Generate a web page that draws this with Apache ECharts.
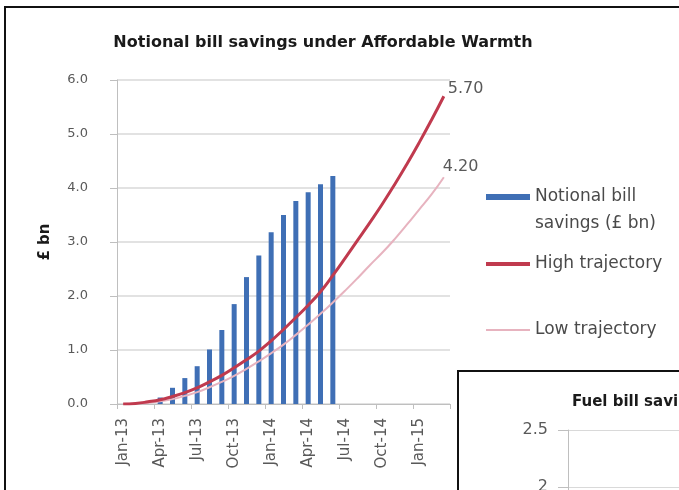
<!DOCTYPE html>
<html>
<head>
<meta charset="utf-8">
<script src="https://cdn.jsdelivr.net/npm/echarts@6/dist/echarts.min.js"></script>
<style>
  html, body { margin: 0; padding: 0; background: #fff; }
  #chart { width: 679px; height: 490px; }
</style>
</head>
<body>
<div id="chart"></div>
<script>
// Monthly categories, Jan-13 .. Mar-15
const months = [
  'Jan-13','Feb-13','Mar-13','Apr-13','May-13','Jun-13','Jul-13','Aug-13','Sep-13',
  'Oct-13','Nov-13','Dec-13','Jan-14','Feb-14','Mar-14','Apr-14','May-14','Jun-14',
  'Jul-14','Aug-14','Sep-14','Oct-14','Nov-14','Dec-14','Jan-15','Feb-15','Mar-15'
];

// Cumulative notional bill savings (£ bn), Apr-13 .. Jun-14
const notionalSavings = [
  null, null, null, 0.12, 0.30, 0.48, 0.70, 1.01, 1.37,
  1.85, 2.35, 2.75, 3.18, 3.50, 3.76, 3.92, 4.07, 4.22,
  null, null, null, null, null, null, null, null, null
];

// High trajectory (£ bn)
const highTrajectory = [
  0.00, 0.01, 0.04, 0.08, 0.14, 0.21, 0.30, 0.41, 0.53,
  0.67, 0.82, 0.98, 1.17, 1.38, 1.60, 1.83, 2.08, 2.38,
  2.70, 3.03, 3.36, 3.70, 4.06, 4.44, 4.84, 5.26, 5.70
];

// Low trajectory (£ bn)
const lowTrajectory = [
  0.00, 0.01, 0.02, 0.05, 0.09, 0.15, 0.22, 0.31, 0.41,
  0.52, 0.65, 0.79, 0.94, 1.10, 1.28, 1.47, 1.67, 1.88,
  2.10, 2.33, 2.57, 2.80, 3.05, 3.32, 3.60, 3.88, 4.20
];

const yTicks = [0, 1, 2, 3, 4, 5, 6];
const fuelTicks = [0, 0.5, 1, 1.5, 2, 2.5];

const seriesNames = ['Notional bill savings (£ bn)', 'High trajectory', 'Low trajectory'];

const FONT = '"DejaVu Sans", Verdana, sans-serif';
const TEXT = '#595959';
const LEGEND_TEXT = '#4a4a4a';
const GRID = '#d9d9d9';
const BLUE = '#3f6fb5';
const RED = '#c03a4e';
const PINK = '#e7b3bf';

const chart = echarts.init(document.getElementById('chart'), null, { renderer: 'canvas' });

const legendBase = {
  orient: 'vertical',
  left: 486,
  itemWidth: 44,
  selectedMode: false,
  padding: 0,
  textStyle: { fontFamily: FONT, fontSize: 17, color: LEGEND_TEXT, lineHeight: 20 }
};

const endLabel = (offset) => ({
  show: true,
  distance: 4,
  offset: offset,
  formatter: p => Number(p.value).toFixed(2),
  fontFamily: FONT, fontSize: 16, color: TEXT
});

chart.setOption({
  backgroundColor: '#fff',
  animation: false,
  title: [
    {
      text: 'Notional bill savings under Affordable Warmth',
      left: 323, top: 35, textAlign: 'center', padding: 0,
      textStyle: { fontFamily: FONT, fontSize: 16, fontWeight: 'bold', color: '#1a1a1a' }
    },
    {
      text: 'Fuel bill savings',
      left: 572, top: 395, padding: 0,
      textStyle: { fontFamily: FONT, fontSize: 15, fontWeight: 'bold', color: '#1a1a1a' }
    }
  ],
  graphic: [
    {
      type: 'rect', z: -10, silent: true,
      shape: { x: 5, y: 7, width: 720, height: 520 },
      style: { fill: '#fff', stroke: '#111', lineWidth: 2 }
    },
    {
      type: 'rect', z: -5, silent: true,
      shape: { x: 458, y: 371, width: 300, height: 200 },
      style: { fill: '#fff', stroke: '#111', lineWidth: 2 }
    }
  ],
  legend: [
    Object.assign({}, legendBase, {
      top: 183,
      itemHeight: 54,
      // bar swatch sits level with the first text line
      icon: 'path://M0,0h0.1v0.1h-0.1z M0,11h44v6h-44z M0,53.9h0.1v0.1h-0.1z',
      data: [seriesNames[0]],
      formatter: () => 'Notional bill\nsavings (£ bn)',
      textStyle: { fontFamily: FONT, fontSize: 17, color: LEGEND_TEXT, lineHeight: 27 }
    }),
    Object.assign({}, legendBase, {
      top: 254, itemHeight: 4, icon: 'rect', data: [seriesNames[1]]
    }),
    Object.assign({}, legendBase, {
      top: 320, itemHeight: 2, icon: 'rect', data: [seriesNames[2]]
    })
  ],
  grid: [
    { left: 117, right: 229, top: 80, bottom: 86, outerBoundsMode: 'none' },
    { left: 568, top: 430, width: 200, height: 285, outerBoundsMode: 'none' }
  ],
  xAxis: [
    {
      type: 'category',
      gridIndex: 0,
      data: months,
      boundaryGap: true,
      axisLine: { lineStyle: { color: '#bfbfbf', width: 1 } },
      axisTick: { show: true, interval: 2, length: 5, lineStyle: { color: '#bfbfbf' } },
      axisLabel: {
        interval: 2, rotate: 90, margin: 14,
        fontFamily: FONT, fontSize: 15, color: TEXT
      },
      splitLine: { show: false }
    },
    {
      type: 'value', gridIndex: 1, min: 0, max: 1, show: false
    }
  ],
  yAxis: [
    {
      type: 'value',
      gridIndex: 0,
      min: yTicks[0], max: yTicks[yTicks.length - 1], interval: 1,
      name: '£ bn',
      nameLocation: 'middle',
      nameGap: 64,
      nameRotate: 90,
      nameTextStyle: { fontFamily: FONT, fontSize: 15, fontWeight: 'bold', color: '#1a1a1a' },
      axisLine: { show: true, lineStyle: { color: '#bfbfbf' } },
      axisTick: { show: true, length: 7, lineStyle: { color: '#bfbfbf' } },
      axisLabel: {
        margin: 29, fontFamily: FONT, fontSize: 13, color: TEXT,
        formatter: v => v.toFixed(1)
      },
      splitLine: { lineStyle: { color: GRID, width: 1.5 } }
    },
    {
      type: 'value',
      gridIndex: 1,
      min: fuelTicks[0], max: fuelTicks[fuelTicks.length - 1], interval: 0.5,
      axisLine: { show: true, lineStyle: { color: '#bfbfbf' } },
      axisTick: { show: true, length: 10, lineStyle: { color: '#bfbfbf' } },
      axisLabel: { margin: 20, fontFamily: FONT, fontSize: 16, color: TEXT },
      splitLine: { lineStyle: { color: GRID } }
    }
  ],
  series: [
    {
      name: seriesNames[0],
      type: 'bar',
      xAxisIndex: 0, yAxisIndex: 0,
      data: notionalSavings,
      barWidth: 5,
      itemStyle: { color: BLUE },
      z: 2
    },
    {
      name: seriesNames[1],
      type: 'line',
      xAxisIndex: 0, yAxisIndex: 0,
      data: highTrajectory,
      smooth: true,
      showSymbol: false,
      symbol: 'none',
      lineStyle: { color: RED, width: 3 },
      itemStyle: { color: RED },
      endLabel: endLabel([0, -7]),
      z: 4
    },
    {
      name: seriesNames[2],
      type: 'line',
      xAxisIndex: 0, yAxisIndex: 0,
      data: lowTrajectory,
      smooth: true,
      showSymbol: false,
      symbol: 'none',
      lineStyle: { color: PINK, width: 2 },
      itemStyle: { color: PINK },
      endLabel: endLabel([-5, -10]),
      z: 3
    }
  ]
});
</script>
</body>
</html>
